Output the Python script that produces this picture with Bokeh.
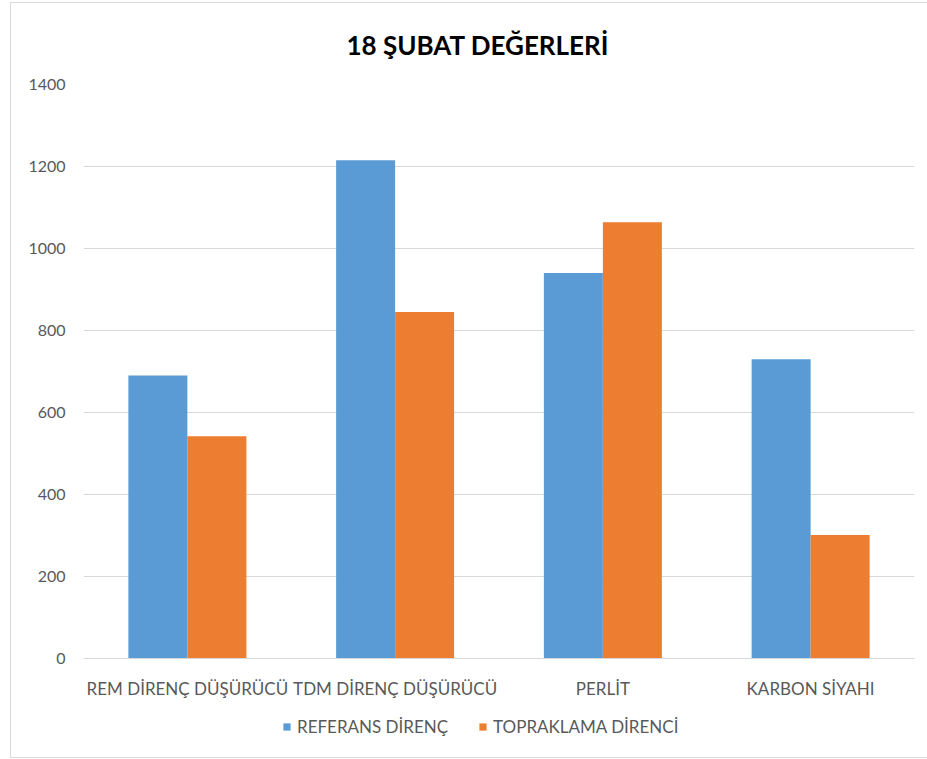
from bokeh.plotting import figure
from bokeh.models import FactorRange, Range1d, Legend, LegendItem, ColumnDataSource
from bokeh.layouts import column
from bokeh.transform import dodge
from bokeh.embed import file_html
from bokeh.resources import INLINE

categories = ["REM DİRENÇ DÜŞÜRÜCÜ", "TDM DİRENÇ DÜŞÜRÜCÜ", "PERLİT", "KARBON SİYAHI"]
referans = [690, 1215, 940, 730]
topraklama = [542, 845, 1064, 301]
series_names = ["REFERANS DİRENÇ", "TOPRAKLAMA DİRENCİ"]
title_text = "18 ŞUBAT DEĞERLERİ"

FONT = "Lato"
BLUE = "#5B9BD5"
ORANGE = "#ED7D31"
GRID = "#D9D9D9"
LABEL = "#595959"

src = ColumnDataSource(dict(cat=categories, ref=referans, top=topraklama))
bw = 0.284

p = figure(x_range=FactorRange(*categories, range_padding=0), y_range=(0, 1400),
           frame_width=831, frame_height=574, output_backend="svg", toolbar_location=None,
           title=title_text, min_border_left=72, min_border_right=13,
           min_border_top=81, min_border_bottom=45)

r1 = p.vbar(x=dodge("cat", -bw / 2, range=p.x_range), top="ref", width=bw, source=src,
            fill_color=BLUE, line_color=None)
r2 = p.vbar(x=dodge("cat", bw / 2, range=p.x_range), top="top", width=bw, source=src,
            fill_color=ORANGE, line_color=None)

p.title.align = "left"
p.title.offset = 263
p.title.text_font = FONT
p.title.text_font_size = "26px"
p.title.text_font_style = "bold"
p.title.text_color = "#000000"
p.title.standoff = 47

p.outline_line_color = None
p.xgrid.grid_line_color = None
p.ygrid.grid_line_color = GRID
p.ygrid.grid_line_width = 1
p.yaxis.ticker = [0, 200, 400, 600, 800, 1000, 1200, 1400]
p.yaxis.axis_line_color = None
p.yaxis.major_tick_line_color = None
p.yaxis.minor_tick_line_color = None
p.yaxis.major_label_text_font = FONT
p.yaxis.major_label_text_font_size = "16px"
p.yaxis.major_label_text_color = LABEL
p.yaxis.major_label_standoff = 12

p.xaxis.axis_line_color = GRID
p.xaxis.major_tick_line_color = None
p.xaxis.minor_tick_line_color = None
p.xaxis.major_label_text_font = FONT
p.xaxis.major_label_text_font_size = "17px"
p.xaxis.major_label_text_color = LABEL
p.xaxis.major_label_standoff = 13

# legend strip below the chart (its renderers are hidden; only the legend shows)
p2 = figure(x_range=FactorRange(*categories, range_padding=0), y_range=Range1d(-2, -1),
            width=916, height=54, output_backend="svg", toolbar_location=None,
            min_border=0)
p2.axis.visible = False
p2.grid.visible = False
p2.outline_line_color = None
l1 = p2.vbar(x=dodge("cat", -bw / 2, range=p2.x_range), top="ref", width=bw, source=src,
             fill_color=BLUE, line_color=None, visible=False)
l2 = p2.vbar(x=dodge("cat", bw / 2, range=p2.x_range), top="top", width=bw, source=src,
             fill_color=ORANGE, line_color=None, visible=False)

legend = Legend(items=[LegendItem(label=series_names[0], renderers=[l1]),
                       LegendItem(label=series_names[1], renderers=[l2])],
                orientation="horizontal", location=(199, 20),
                label_text_font=FONT, label_text_font_size="17px",
                label_text_color=LABEL, glyph_width=9, glyph_height=9,
                spacing=30, border_line_color=None, background_fill_alpha=0,
                inactive_fill_alpha=0, click_policy="none",
                label_standoff=6, padding=0, margin=0)
p2.add_layout(legend, "center")

layout = column(p, p2, spacing=0)
layout.margin = (2, 0, 0, 10)
layout.styles = {"border": "1px solid #D9D9D9"}

open("out.html", "w").write(file_html(layout, INLINE))
